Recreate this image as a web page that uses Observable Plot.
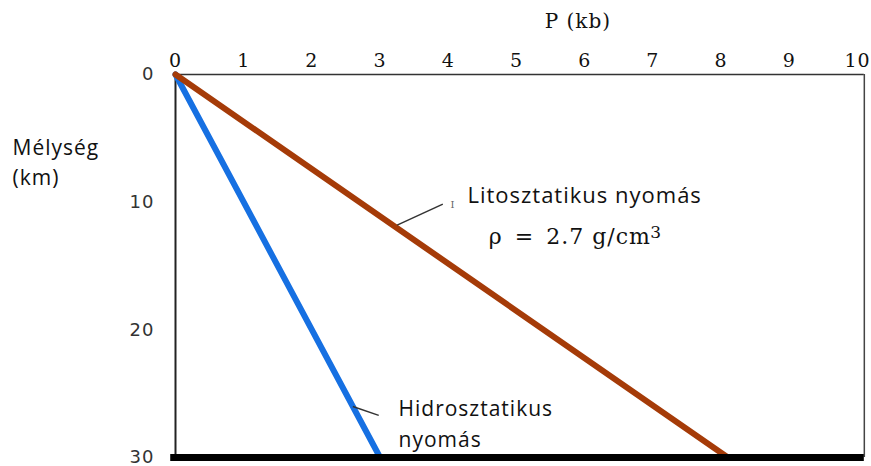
<!DOCTYPE html>
<html>
<head>
<meta charset="utf-8">
<script src="https://cdn.jsdelivr.net/npm/d3@7"></script>
<script src="https://cdn.jsdelivr.net/npm/@observablehq/plot@0.6"></script>
<style>
  html, body { margin: 0; padding: 0; background: #fff; }
</style>
</head>
<body>
<div id="chart"></div>
<script>
// Pressure (kb) against depth (km) for lithostatic and hydrostatic load
const depthKm = [0, 30];
const lithostaticKb = [0, 8.1];   // rho = 2.7 g/cm3
const hydrostaticKb = [0, 3.0];   // water, rho = 1.0 g/cm3

const pressureTicks = [0, 1, 2, 3, 4, 5, 6, 7, 8, 9, 10];
const depthTicks = [0, 10, 20, 30];

const lithoRows = depthKm.map((d, i) => ({p: lithostaticKb[i], d}));
const hydroRows = depthKm.map((d, i) => ({p: hydrostaticKb[i], d}));

// Callout leaders (pressure, depth) from each curve to its label
const lithoLeader = [{x1: 3.25, y1: 11.8, x2: 3.92, y2: 10.15}];
const hydroLeader = [{x1: 2.6, y1: 26.0, x2: 2.98, y2: 26.7}];

const chart = Plot.plot({
  width: 871,
  height: 466,
  marginLeft: 175,
  marginRight: 14,
  marginTop: 74,
  marginBottom: 9,
  style: {letterSpacing: "1px", background: "#fff"},
  x: {domain: [0, 10]},
  y: {domain: [0, 30], reverse: true},
  marks: [
    Plot.axisX(pressureTicks, {
      anchor: "top", tickSize: 0, tickPadding: 8, label: null,
      fontFamily: "DejaVu Serif", fontSize: 19, fill: "#111"
    }),
    Plot.axisY(depthTicks, {
      anchor: "left", tickSize: 0, tickPadding: 21, label: null,
      fontFamily: "DejaVu Sans", fontSize: 18, fill: "#333"
    }),
    // plot box
    Plot.ruleY([0], {x1: 0, x2: 10.1, stroke: "#333", strokeWidth: 1.5}),
    Plot.ruleX([0], {y1: 0, y2: 30, stroke: "#222", strokeWidth: 2}),
    Plot.ruleX([10.1], {y1: 0, y2: 30, stroke: "#444", strokeWidth: 1.5}),
    // curves
    Plot.line(hydroRows, {x: "p", y: "d", stroke: "#1670e2", strokeWidth: 6}),
    Plot.line(lithoRows, {x: "p", y: "d", stroke: "#a53b08", strokeWidth: 6}),
    Plot.ruleY([30], {x1: -0.07, x2: 10.1, stroke: "#000", strokeWidth: 7}),
    // leaders
    Plot.link(lithoLeader, {x1: "x1", y1: "y1", x2: "x2", y2: "y2", stroke: "#333", strokeWidth: 1.5}),
    Plot.link(hydroLeader, {x1: "x1", y1: "y1", x2: "x2", y2: "y2", stroke: "#333", strokeWidth: 1.5}),
    Plot.text(["I"], {x: 4.07, y: 10.2, fontFamily: "DejaVu Serif", fontSize: 10, fill: "#666"}),
    // labels
    Plot.text(["Litosztatikus nyomás"], {
      x: 4.28, y: 9.55, textAnchor: "start", fontFamily: "Open Sans", fontSize: 22, fill: "#111"
    }),
    Plot.text(["ρ\u2002=\u20022.7 g/cm"], {
      x: 6.97, y: 12.76, textAnchor: "end", fontFamily: "DejaVu Serif", fontSize: 22, fill: "#111"
    }),
    Plot.text(["3"], {
      x: 6.96, y: 12.4, textAnchor: "start", fontFamily: "DejaVu Serif", fontSize: 17, fill: "#111"
    }),
    Plot.text(["Hidrosztatikus\nnyomás"], {
      x: 3.27, y: 27.17, textAnchor: "start", lineHeight: 1.5, fontFamily: "Open Sans", fontSize: 21, fill: "#111"
    }),
    Plot.text(["Mélység\n(km)"], {
      x: -2.39, y: 6.75, textAnchor: "start", lineHeight: 1.4, fontFamily: "Open Sans", fontSize: 21, fill: "#111"
    }),
    Plot.text(["P (kb)"], {
      x: 5.9, y: -4.15, fontFamily: "DejaVu Serif", fontSize: 20, fill: "#111"
    })
  ]
});

document.getElementById("chart").append(chart);
</script>
</body>
</html>
